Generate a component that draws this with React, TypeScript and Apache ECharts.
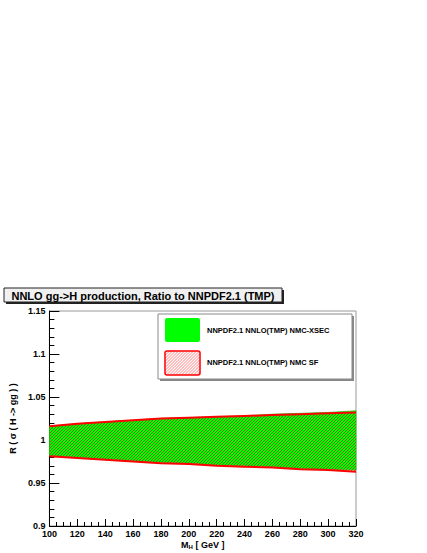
import React, { useEffect, useRef } from "react";
import * as echarts from "echarts";

const masses = [100, 120, 140, 160, 180, 200, 220, 240, 260, 280, 300, 320];
const greenUpper = [1.016, 1.019, 1.021, 1.023, 1.025, 1.026, 1.027, 1.028, 1.030, 1.031, 1.032, 1.034];
const greenLower = [0.982, 0.980, 0.978, 0.976, 0.974, 0.973, 0.971, 0.970, 0.969, 0.967, 0.966, 0.965];
const redUpper = [1.016, 1.019, 1.021, 1.023, 1.025, 1.026, 1.027, 1.028, 1.029, 1.030, 1.031, 1.032];
const redLower = [0.981, 0.979, 0.977, 0.975, 0.973, 0.972, 0.970, 0.969, 0.968, 0.966, 0.965, 0.963];
const yTicks = ["0.9", "0.95", "1", "1.05", "1.1", "1.15"];

const titleText = "NNLO gg->H production, Ratio to NNPDF2.1 (TMP)";
const legendGreen = "NNPDF2.1 NNLO(TMP) NMC-XSEC";
const legendRed = "NNPDF2.1 NNLO(TMP) NMC SF";
const FONT = "'Liberation Sans', Arial, Helvetica, sans-serif";

function legendHatchLines(x0: number, y0: number, w: number, h: number, step: number) {
  const out: any[] = [];
  for (let c = -h + step / 2; c < w; c += step) {
    const t0 = Math.max(0, -c);
    const t1 = Math.min(h, w - c);
    if (t1 <= t0) continue;
    out.push({
      type: "line",
      z: 103,
      silent: true,
      shape: { x1: x0 + c + t0, y1: y0 + h - t0, x2: x0 + c + t1, y2: y0 + h - t1 },
      style: { stroke: "#ff5a5a", lineWidth: 0.8 },
    });
  }
  return out;
}

// piecewise-linear interpolation in pixel space
function interp(pts: number[][], x: number) {
  if (x <= pts[0][0]) return pts[0][1];
  for (let i = 1; i < pts.length; i++) {
    if (x <= pts[i][0]) {
      const [xa, ya] = pts[i - 1];
      const [xb, yb] = pts[i];
      return ya + ((yb - ya) * (x - xa)) / (xb - xa);
    }
  }
  return pts[pts.length - 1][1];
}

// solve y(x) + x = c for monotone increasing g
function solve(pts: number[][], c: number, xl: number, xr: number) {
  let lo = xl - 500;
  let hi = xr + 500;
  for (let k = 0; k < 40; k++) {
    const mid = (lo + hi) / 2;
    if (interp(pts, mid) + mid < c) lo = mid;
    else hi = mid;
  }
  return (lo + hi) / 2;
}

function bandSeries(name: string, upper: number[], lower: number[], fill: string | null, hatch: any) {
  const data = masses.map((m, i) => [m, lower[i], upper[i]]);
  return {
    type: "custom",
    name,
    silent: true,
    clip: true,
    data,
    encode: { x: 0, y: [1, 2] },
    renderItem: (params: any, api: any) => {
      if (params.dataIndex !== 0) return null;
      const top = data.map((d) => api.coord([d[0], d[2]]));
      const bot = data.map((d) => api.coord([d[0], d[1]]));
      const children: any[] = [];
      if (fill) {
        children.push({
          type: "polygon",
          shape: { points: top.concat(bot.slice().reverse()) },
          style: { fill, stroke: "#22cc22", lineWidth: 0.8 },
        });
      }
      if (hatch) {
        const xl = top[0][0];
        const xr = top[top.length - 1][0];
        const cMin = interp(top, xl) + xl;
        const cMax = interp(bot, xr) + xr;
        for (let c = Math.ceil(cMin / hatch.step) * hatch.step; c <= cMax; c += hatch.step) {
          const xb = solve(bot, c, xl, xr);
          const xt = solve(top, c, xl, xr);
          const xs = Math.max(xb, xl);
          const xe = Math.min(xt, xr);
          if (xe <= xs) continue;
          children.push({
            type: "line",
            shape: { x1: xs, y1: c - xs, x2: xe, y2: c - xe },
            style: { stroke: hatch.color, lineWidth: hatch.width },
          });
        }
      }
      return { type: "group", children };
    },
  };
}

export default function App() {
  const ref = useRef<HTMLDivElement>(null);
  useEffect(() => {
    if (!ref.current) return;
    const chart = echarts.init(ref.current, null, { renderer: "svg" });
    const pair = (arr: number[]) => masses.map((m, i) => [m, arr[i]]);
    const lineBase = { type: "line", symbol: "none", silent: true };
    chart.setOption({
      animation: false,
      grid: {
        left: 40,
        top: 311,
        right: 71,
        bottom: 27,
        show: true,
        borderColor: "#999",
        borderWidth: 1,
        backgroundColor: "transparent",
      },
      xAxis: {
        type: "value",
        min: 100,
        max: 320,
        interval: 20,
        name: "{m|M}{s|H}{m| [ GeV ]}",
        nameLocation: "middle",
        nameGap: 14,
        nameTextStyle: {
          rich: {
            m: { fontSize: 9, fontWeight: "bold", fontFamily: FONT, color: "#000" },
            s: { fontSize: 6, fontWeight: "bold", fontFamily: FONT, color: "#000", padding: [4, 0, 0, 0] },
          },
        },
        axisLine: { show: true, onZero: false, lineStyle: { color: "#000", width: 1 } },
        axisTick: { show: true, inside: true, length: 7, lineStyle: { color: "#000" } },
        minorTick: { show: true, splitNumber: 4, length: 4, lineStyle: { color: "#000" } },
        splitLine: { show: false },
        axisLabel: {
          color: "#000",
          fontSize: 9,
          fontWeight: "bold",
          fontFamily: FONT,
          margin: 3,
          showMinLabel: true,
          showMaxLabel: true,
        },
      },
      yAxis: {
        type: "value",
        min: 0.9,
        max: 1.15,
        interval: 0.05,
        name: "R ( σ ( H -> gg ) )",
        nameLocation: "middle",
        nameGap: 24,
        nameRotate: 90,
        nameTextStyle: { fontSize: 9, fontWeight: "bold", fontFamily: FONT, color: "#000" },
        axisLine: { show: true, onZero: false, lineStyle: { color: "#000", width: 1 } },
        axisTick: { show: true, inside: true, length: 10, lineStyle: { color: "#000" } },
        minorTick: { show: true, splitNumber: 5, length: 5, lineStyle: { color: "#000" } },
        splitLine: { show: false },
        axisLabel: {
          color: "#000",
          fontSize: 9,
          fontWeight: "bold",
          fontFamily: FONT,
          margin: 4,
          showMinLabel: true,
          showMaxLabel: true,
          formatter: (v: number) => {
            const idx = Math.round((v - 0.9) / 0.05);
            return yTicks[idx] ?? String(v);
          },
        },
      },
      series: [
        bandSeries(legendGreen, greenUpper, greenLower, "#00ff00", null),
        bandSeries(legendRed, redUpper, redLower, null, { step: 3, color: "rgba(200,0,0,0.7)", width: 0.8 }),
        { ...lineBase, name: "redUpperEdge", data: pair(redUpper), lineStyle: { color: "#ff0000", width: 2 } },
        { ...lineBase, name: "redLowerEdge", data: pair(redLower), lineStyle: { color: "#ff0000", width: 2 } },
      ],
      graphic: [
        { type: "rect", z: 100, shape: { x: 6, y: 290, width: 278, height: 14 }, style: { fill: "#222" }, silent: true },
        {
          type: "rect",
          z: 101,
          shape: { x: 4, y: 288, width: 278, height: 14 },
          style: { fill: "#f0f0f0", stroke: "#222", lineWidth: 1 },
          silent: true,
        },
        {
          type: "text",
          z: 102,
          x: 143,
          y: 295.5,
          style: {
            text: titleText,
            fontSize: 11,
            fontWeight: "bold",
            fontFamily: FONT,
            fill: "#000",
            align: "center",
            verticalAlign: "middle",
          },
          silent: true,
        },
        { type: "rect", z: 100, shape: { x: 160, y: 316, width: 194, height: 65 }, style: { fill: "#888" }, silent: true },
        {
          type: "rect",
          z: 101,
          shape: { x: 158, y: 314, width: 194, height: 65 },
          style: { fill: "#fff", stroke: "#888", lineWidth: 1 },
          silent: true,
        },
        {
          type: "rect",
          z: 102,
          shape: { x: 165, y: 318, width: 35, height: 24, r: 2 },
          style: { fill: "#00ff00" },
          silent: true,
        },
        ...legendHatchLines(165, 351, 35, 24, 3),
        {
          type: "rect",
          z: 104,
          shape: { x: 165, y: 351, width: 35, height: 24, r: 2 },
          style: { fill: "none", stroke: "#ff0000", lineWidth: 1.5 },
          silent: true,
        },
        {
          type: "text",
          z: 102,
          x: 207,
          y: 330.5,
          style: {
            text: legendGreen,
            fontSize: 7.5,
            fontWeight: "bold",
            fontFamily: FONT,
            fill: "#000",
            verticalAlign: "middle",
          },
          silent: true,
        },
        {
          type: "text",
          z: 102,
          x: 207,
          y: 362.5,
          style: {
            text: legendRed,
            fontSize: 7.5,
            fontWeight: "bold",
            fontFamily: FONT,
            fill: "#000",
            verticalAlign: "middle",
          },
          silent: true,
        },
      ],
    });
    return () => chart.dispose();
  }, []);
  return (
    <div
      ref={ref}
      style={{ position: "fixed", left: 0, top: 0, width: 427, height: 553, background: "#fff" }}
    />
  );
}
